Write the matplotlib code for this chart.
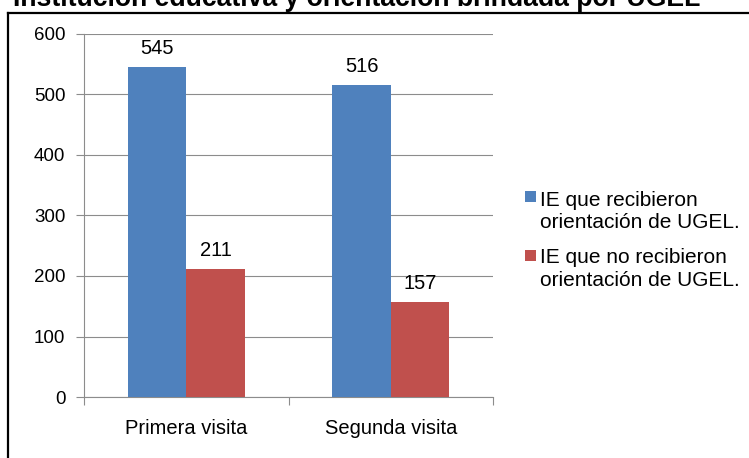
import matplotlib
matplotlib.use("Agg")
import matplotlib.pyplot as plt
from matplotlib.lines import Line2D
from matplotlib.patches import Rectangle
import numpy as np

plt.rcParams['font.family'] = ['Liberation Sans', 'DejaVu Sans']

title = "Institución educativa y orientación brindada por UGEL"
categories = ["Primera visita", "Segunda visita"]
series_names = ["IE que recibieron\norientación de UGEL.",
                "IE que no recibieron\norientación de UGEL."]
series_values = [[545, 516], [211, 157]]
series_colors = ["#4F81BD", "#C0504D"]
yticks = [0, 100, 200, 300, 400, 500, 600]

W, H = 749, 458
fig = plt.figure(figsize=(W / 100, H / 100), dpi=100)

def fx(px):
    return px / W

def fy(py):
    return 1 - py / H

# Axes placement (pixels in reference)
ax_left, ax_right, ax_top, ax_bottom = 84, 493, 34, 397
ax = fig.add_axes([fx(ax_left), fy(ax_bottom), fx(ax_right - ax_left), (ax_bottom - ax_top) / H])

grid_color = "#8c8c8c"
n = len(series_values)
bw = 1 / 3.5
x = np.arange(len(categories))
for i, (vals, col) in enumerate(zip(series_values, series_colors)):
    off = (i - (n - 1) / 2) * bw
    bars = ax.bar(x + off, vals, width=bw, color=col, zorder=3)
    for b, v in zip(bars, vals):
        ax.annotate(str(v), (b.get_x() + b.get_width() / 2, v),
                    xytext=(0, 13.5), textcoords="offset points",
                    ha="center", va="center", fontsize=14.5, color="black")

ax.set_xlim(-0.5, len(categories) - 0.5)
ax.set_ylim(yticks[0], yticks[-1])
ax.set_yticks(yticks)
ax.set_yticklabels([str(t) for t in yticks], fontsize=13.5)
ax.yaxis.grid(True, color=grid_color, linewidth=0.8, zorder=0)
ax.set_axisbelow(True)

ax.set_xticks(np.arange(-0.5, len(categories), 1.0))
ax.set_xticklabels([])
ax.set_xticks(x, minor=True)
ax.set_xticklabels(categories, minor=True, fontsize=14.5)
ax.tick_params(axis="x", which="minor", length=0, pad=16)
ax.tick_params(axis="x", which="major", length=5.5, width=0.8, color=grid_color, direction="out")
ax.tick_params(axis="y", length=5.5, width=0.8, color=grid_color, direction="out", pad=8)

for s in ["top", "right"]:
    ax.spines[s].set_visible(False)
for s in ["left", "bottom"]:
    ax.spines[s].set_color(grid_color)
    ax.spines[s].set_linewidth(0.8)

# Legend (manual)
leg_text_x = 540
marker_boxes = [(525, 191), (525, 250)]
baselines = [(206, 228), (263, 286)]
for name, col, (mx, my), (b1, b2) in zip(series_names, series_colors, marker_boxes, baselines):
    fig.patches.append(Rectangle((fx(mx), fy(my + 11)), 11 / W, 11 / H,
                                 transform=fig.transFigure, facecolor=col, edgecolor="none"))
    l1, l2 = name.split("\n")
    fig.text(fx(leg_text_x), fy(b1), l1, fontsize=15, va="baseline", ha="left")
    fig.text(fx(leg_text_x), fy(b2), l2, fontsize=15, va="baseline", ha="left")

# Border box (partially visible)
fig.add_artist(Line2D([fx(8), fx(8)], [fy(13), 0], transform=fig.transFigure, color="black", linewidth=1.6))
fig.add_artist(Line2D([fx(8), 1], [fy(13), fy(13)], transform=fig.transFigure, color="black", linewidth=1.6))

# Title (cut off at top, as in the reference)
fig.text(fx(13), fy(6), title, fontsize=19.2, fontweight="bold", va="baseline", ha="left")

fig.savefig("out.png", dpi=100)
